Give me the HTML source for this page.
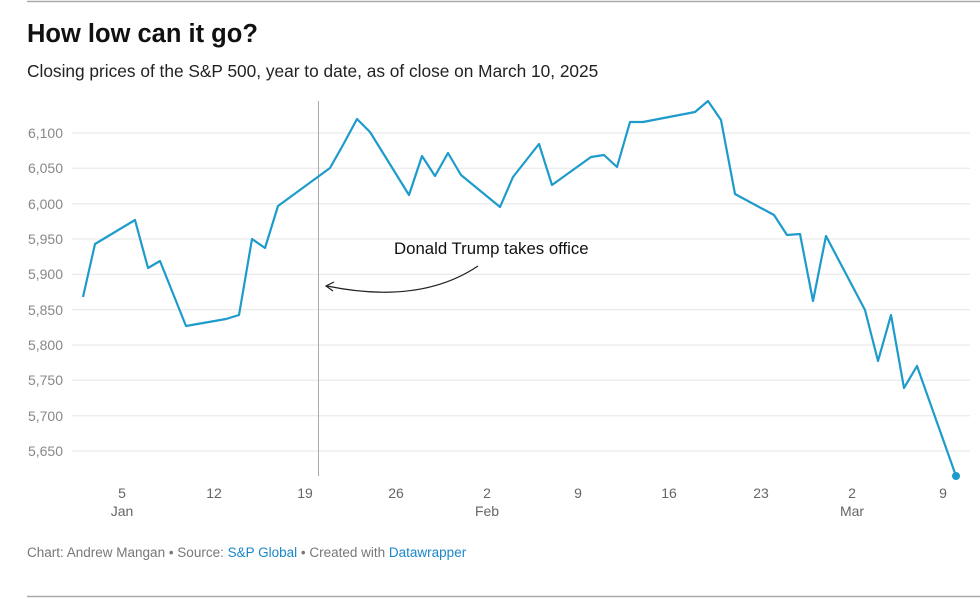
<!DOCTYPE html>
<html><head><meta charset="utf-8"><style>
body{margin:0;background:#fff;width:980px;height:599px;overflow:hidden;font-family:"Liberation Sans",sans-serif}
</style></head><body>
<svg width="980" height="599" xmlns="http://www.w3.org/2000/svg" style="position:absolute;left:0;top:0;font-family:'Liberation Sans',sans-serif">
<line x1="27" y1="1.5" x2="980" y2="1.5" stroke="#aaa" stroke-width="1.5"/>
<line x1="27" y1="596.5" x2="980" y2="596.5" stroke="#aaa" stroke-width="1.5"/>
<text x="27" y="42" font-size="25.5" font-weight="bold" fill="#111">How low can it go?</text>
<text x="27" y="77" font-size="17.3" fill="#222">Closing prices of the S&amp;P 500, year to date, as of close on March 10, 2025</text>
<g stroke="#e5e5e5" stroke-width="1">
<line x1="72" x2="970" y1="133" y2="133"/><line x1="72" x2="970" y1="168.3" y2="168.3"/>
<line x1="72" x2="970" y1="203.7" y2="203.7"/><line x1="72" x2="970" y1="239" y2="239"/>
<line x1="72" x2="970" y1="274.3" y2="274.3"/><line x1="72" x2="970" y1="309.7" y2="309.7"/>
<line x1="72" x2="970" y1="345" y2="345"/><line x1="72" x2="970" y1="380.3" y2="380.3"/>
<line x1="72" x2="970" y1="415.7" y2="415.7"/><line x1="72" x2="970" y1="451" y2="451"/>
</g>
<g font-size="14" fill="#888" text-anchor="end">
<text x="63" y="138">6,100</text><text x="63" y="173">6,050</text><text x="63" y="209">6,000</text>
<text x="63" y="244">5,950</text><text x="63" y="279">5,900</text><text x="63" y="315">5,850</text>
<text x="63" y="350">5,800</text><text x="63" y="385">5,750</text><text x="63" y="421">5,700</text>
<text x="63" y="456">5,650</text>
</g>
<line x1="318.5" y1="101" x2="318.5" y2="476" stroke="#aaa" stroke-width="1"/>
<g font-size="14" fill="#666" text-anchor="middle">
<text x="122" y="498">5</text><text x="122" y="516">Jan</text>
<text x="214" y="498">12</text><text x="305" y="498">19</text><text x="396" y="498">26</text>
<text x="487" y="498">2</text><text x="487" y="516">Feb</text>
<text x="578" y="498">9</text><text x="669" y="498">16</text><text x="761" y="498">23</text>
<text x="852" y="498">2</text><text x="852" y="516">Mar</text><text x="943" y="498">9</text>
</g>
<polyline fill="none" stroke="#1d9bcb" stroke-width="2.2" stroke-linejoin="round" points="83,297 95,244 135,220 148,268 160,261 186,326 226,319 239,315 252,239 265,248 278,206 330,168 343,145 357,119 370,132 409,195 422,156 435,176 448,153 461,175 500,207 513,177 539,144 552,185 591,157 604,155 617,167 630,122 643,122 695,112 708,101 721,120 735,194 774,215 787,235 800,234 813,301 826,236 865,310 878,361 891,315 904,388 917,366 956,476"/>
<circle cx="956" cy="476" r="4" fill="#1d9bcb"/>
<text x="394" y="254" font-size="16.8" fill="#111">Donald Trump takes office</text>
<path d="M478,266 Q420,305 327,286" fill="none" stroke="#222" stroke-width="1.2"/>
<path d="M334,282 L326,286 L333,291" fill="none" stroke="#222" stroke-width="1.2"/>
<text x="27" y="557" font-size="13.5" fill="#777">Chart: Andrew Mangan • Source: <tspan fill="#1a87c9">S&amp;P Global</tspan> • Created with <tspan fill="#1a87c9">Datawrapper</tspan></text>
</svg>
</body></html>
